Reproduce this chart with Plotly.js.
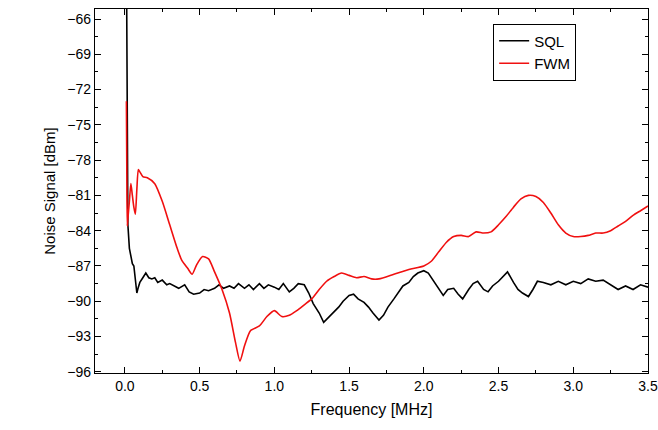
<!DOCTYPE html>
<html>
<head>
<meta charset="utf-8">
<script src="https://cdn.plot.ly/plotly-3.0.1.min.js"></script>
<style>body{margin:0}#chart{width:658px;height:430px}</style>
</head>
<body>
<div id="chart"></div>
<script>
var sqlX = [0.01, 0.012, 0.015, 0.02, 0.03, 0.04, 0.05, 0.06, 0.07, 0.08, 0.09, 0.1, 0.12, 0.14, 0.16, 0.18, 0.2, 0.22, 0.25, 0.28, 0.3, 0.33, 0.36, 0.4, 0.43, 0.46, 0.5, 0.53, 0.56, 0.6, 0.63, 0.66, 0.7, 0.73, 0.76, 0.8, 0.83, 0.86, 0.9, 0.93, 0.96, 1.0, 1.03, 1.06, 1.1, 1.13, 1.16, 1.2, 1.23, 1.26, 1.3, 1.33, 1.36, 1.4, 1.43, 1.46, 1.5, 1.53, 1.56, 1.6, 1.63, 1.66, 1.7, 1.73, 1.76, 1.8, 1.83, 1.86, 1.9, 1.93, 1.96, 2.0, 2.03, 2.06, 2.1, 2.13, 2.16, 2.2, 2.23, 2.26, 2.3, 2.33, 2.36, 2.4, 2.43, 2.46, 2.5, 2.53, 2.56, 2.6, 2.63, 2.66, 2.7, 2.73, 2.76, 2.8, 2.85, 2.9, 2.95, 3.0, 3.05, 3.1, 3.15, 3.2, 3.25, 3.3, 3.35, 3.4, 3.45, 3.5];
var sqlY = [-60, -66, -76, -83.5, -85.5, -86.3, -86.8, -87, -88, -89.3, -88.8, -88.4, -88.0, -87.6, -88.0, -88.1, -88.0, -88.4, -88.2, -88.6, -88.5, -88.7, -88.9, -88.6, -89.2, -89.4, -89.3, -89.0, -89.1, -88.9, -88.6, -88.9, -88.7, -88.9, -88.5, -88.9, -88.6, -89.0, -88.5, -88.9, -88.6, -88.8, -89.0, -88.5, -89.2, -88.9, -88.5, -88.6, -89.3, -90.2, -91.0, -91.8, -91.4, -90.9, -90.5, -90.0, -89.5, -89.4, -89.8, -90.1, -90.5, -91.0, -91.6, -91.2, -90.5, -89.8, -89.2, -88.7, -88.4, -87.9, -87.6, -87.4, -87.6, -88.2, -88.9, -89.5, -89.0, -88.9, -89.4, -89.8, -89.0, -88.5, -88.3, -89.0, -89.2, -88.7, -88.3, -87.9, -87.5, -88.4, -89.0, -89.3, -89.6, -89.0, -88.3, -88.4, -88.6, -88.3, -88.6, -88.3, -88.5, -88.1, -88.3, -88.2, -88.6, -89.0, -88.7, -89.0, -88.6, -88.8];

var fwmX = [0.01, 0.013, 0.016, 0.02, 0.03, 0.04, 0.05, 0.06, 0.07, 0.08, 0.09, 0.1, 0.12, 0.15, 0.2, 0.25, 0.3, 0.35, 0.38, 0.42, 0.45, 0.48, 0.52, 0.56, 0.6, 0.65, 0.7, 0.74, 0.77, 0.8, 0.84, 0.9, 0.95, 1.0, 1.05, 1.1, 1.15, 1.2, 1.25, 1.3, 1.35, 1.4, 1.45, 1.5, 1.55, 1.6, 1.65, 1.7, 1.8, 1.9, 2.0, 2.05, 2.1, 2.15, 2.2, 2.25, 2.3, 2.35, 2.4, 2.45, 2.5, 2.55, 2.6, 2.65, 2.7, 2.75, 2.8, 2.85, 2.9, 2.95, 3.0, 3.05, 3.1, 3.15, 3.2, 3.25, 3.3, 3.35, 3.4, 3.45, 3.5];
var fwmY = [-73, -79, -83.6, -83, -81.5, -80.0, -81.0, -82.0, -82.6, -80.5, -78.8, -79.0, -79.4, -79.5, -80.0, -81.5, -83.5, -85.5, -86.5, -87.2, -87.7, -86.9, -86.2, -86.4, -87.5, -89.0, -91.0, -93.5, -95.1, -93.8, -92.5, -92.1, -91.3, -90.8, -91.3, -91.2, -90.8, -90.3, -89.8, -89.0, -88.3, -87.9, -87.6, -87.8, -88.0, -87.9, -88.1, -88.1, -87.7, -87.3, -87.0, -86.6, -85.8, -85.0, -84.5, -84.4, -84.5, -84.1, -84.2, -84.1, -83.5, -82.8, -82.0, -81.3, -81.0, -81.1, -81.6, -82.5, -83.5, -84.2, -84.5, -84.5, -84.4, -84.2, -84.2, -84.0, -83.6, -83.2, -82.7, -82.3, -81.9];

var yTicks = [-96, -93, -90, -87, -84, -81, -78, -75, -72, -69, -66];
var xTicks = [0, 0.5, 1, 1.5, 2, 2.5, 3, 3.5];
var xLabels = ["0.0", "0.5", "1.0", "1.5", "2.0", "2.5", "3.0", "3.5"];

var axisCommon = {
  showline: true, linecolor: "#000", linewidth: 1.2, mirror: "ticks",
  ticks: "inside", ticklen: 6, tickcolor: "#000", showgrid: false, zeroline: false,
  tickfont: {family: "Liberation Sans, Arial", size: 14, color: "#000"}
};

var data = [
  {x: sqlX, y: sqlY, name: "SQL", type: "scatter", mode: "lines", line: {color: "#000", width: 1.6}},
  {x: fwmX, y: fwmY, name: "FWM", type: "scatter", mode: "lines", line: {color: "#f01010", width: 1.6, shape: "spline", smoothing: 0.6}}
];

var layout = {
  width: 658, height: 430,
  margin: {l: 95, r: 10, t: 9, b: 57},
  paper_bgcolor: "#fff", plot_bgcolor: "#fff",
  showlegend: true,
  legend: {x: 0.72, y: 0.96, xanchor: "left", yanchor: "top", bordercolor: "#000", borderwidth: 1,
    font: {family: "Liberation Sans, Arial", size: 15, color: "#000"}, tracegroupgap: 0},
  xaxis: Object.assign({}, axisCommon, {
    range: [-0.2, 3.5], tickvals: xTicks, ticktext: xLabels,
    minor: {dtick: 0.25, ticks: "inside", ticklen: 3, tickcolor: "#000"},
    title: {text: "Frequency [MHz]", font: {family: "Liberation Sans, Arial", size: 16, color: "#000"}, standoff: 10}
  }),
  yaxis: Object.assign({}, axisCommon, {
    range: [-96.1, -65.15], tickvals: yTicks,
    minor: {dtick: 1.5, tick0: -96, ticks: "inside", ticklen: 3, tickcolor: "#000"},
    title: {text: "Noise Signal [dBm]", font: {family: "Liberation Sans, Arial", size: 15, color: "#000"}, standoff: 8}
  })
};

Plotly.newPlot("chart", data, layout, {displayModeBar: false, staticPlot: true});
</script>
</body>
</html>
